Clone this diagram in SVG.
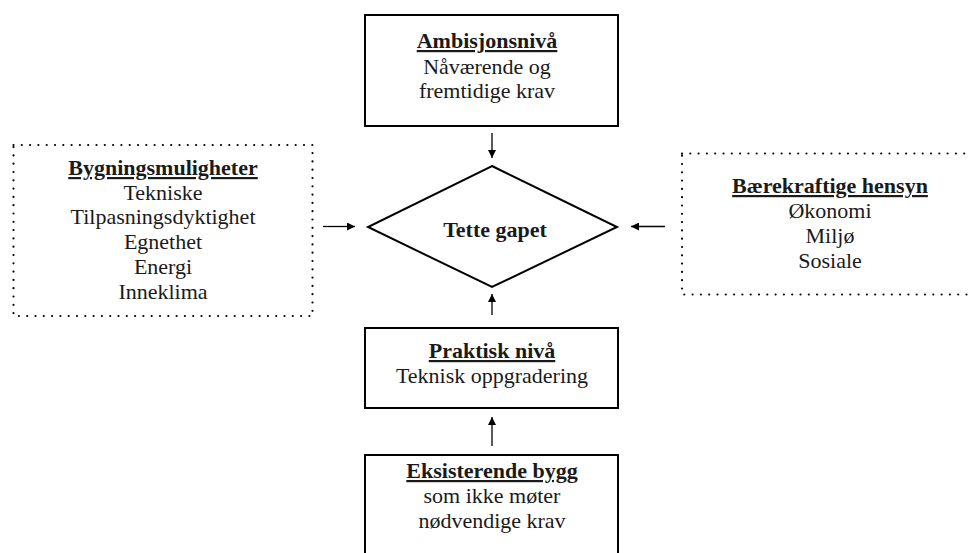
<svg xmlns="http://www.w3.org/2000/svg" width="968" height="553" viewBox="0 0 968 553">
<defs>
<style>
.box{fill:#fff;stroke:#000;stroke-width:2}
.dot{fill:none;stroke:#000;stroke-width:2.2;stroke-dasharray:0 8.3;stroke-linecap:round}
text{font-family:"Liberation Serif","Times New Roman",serif;font-size:22px;fill:#1a1a1a;text-anchor:middle}
.t{font-weight:bold;text-decoration:underline}
.b{font-weight:bold}
.c{stroke:#000;stroke-width:1.3;fill:none}
</style>
<marker id="ah" viewBox="0 0 10 10" refX="10" refY="5" markerWidth="8" markerHeight="8" markerUnits="userSpaceOnUse" orient="auto">
<path d="M0,0 L10,5 L0,10 z" fill="#000"/>
</marker>
</defs>
<rect width="968" height="553" fill="#fff"/>
<g id="ambisjon">
<rect class="box" x="365" y="15" width="253" height="111"/>
<text class="t" x="487" y="48">Ambisjonsnivå</text>
<text x="487" y="74">Nåværende og</text>
<text x="487" y="98">fremtidige krav</text>
</g>
<g id="bygning">
<rect class="dot" x="13.5" y="145" width="299" height="171"/>
<text class="t" x="163" y="175">Bygningsmuligheter</text>
<text x="163" y="200">Tekniske</text>
<text x="163" y="224">Tilpasningsdyktighet</text>
<text x="163" y="249">Egnethet</text>
<text x="163" y="274">Energi</text>
<text x="163" y="299">Inneklima</text>
</g>
<g id="baerekraft">
<rect class="dot" x="682" y="153.5" width="300" height="141"/>
<text class="t" x="830" y="193">Bærekraftige hensyn</text>
<text x="830" y="218">Økonomi</text>
<text x="830" y="243">Miljø</text>
<text x="830" y="268">Sosiale</text>
</g>
<g id="gap">
<polygon class="box" points="492,166 617,227 492,287 368,227"/>
<text class="b" x="495" y="237">Tette gapet</text>
</g>
<g id="praktisk">
<rect class="box" x="365" y="328" width="253" height="80"/>
<text class="t" x="492" y="358">Praktisk nivå</text>
<text x="492" y="383">Teknisk oppgradering</text>
</g>
<g id="eksisterende">
<rect class="box" x="365" y="455" width="253" height="110"/>
<text class="t" x="492" y="478">Eksisterende bygg</text>
<text x="492" y="503">som ikke møter</text>
<text x="492" y="528">nødvendige krav</text>
</g>
<g id="connectors">
<line class="c" x1="492" y1="133" x2="492" y2="158" marker-end="url(#ah)"/>
<line class="c" x1="323" y1="226.5" x2="355" y2="226.5" marker-end="url(#ah)"/>
<line class="c" x1="665" y1="226.5" x2="631" y2="226.5" marker-end="url(#ah)"/>
<line class="c" x1="492" y1="315" x2="492" y2="294" marker-end="url(#ah)"/>
<line class="c" x1="492" y1="446" x2="492" y2="417" marker-end="url(#ah)"/>
</g>
</svg>
